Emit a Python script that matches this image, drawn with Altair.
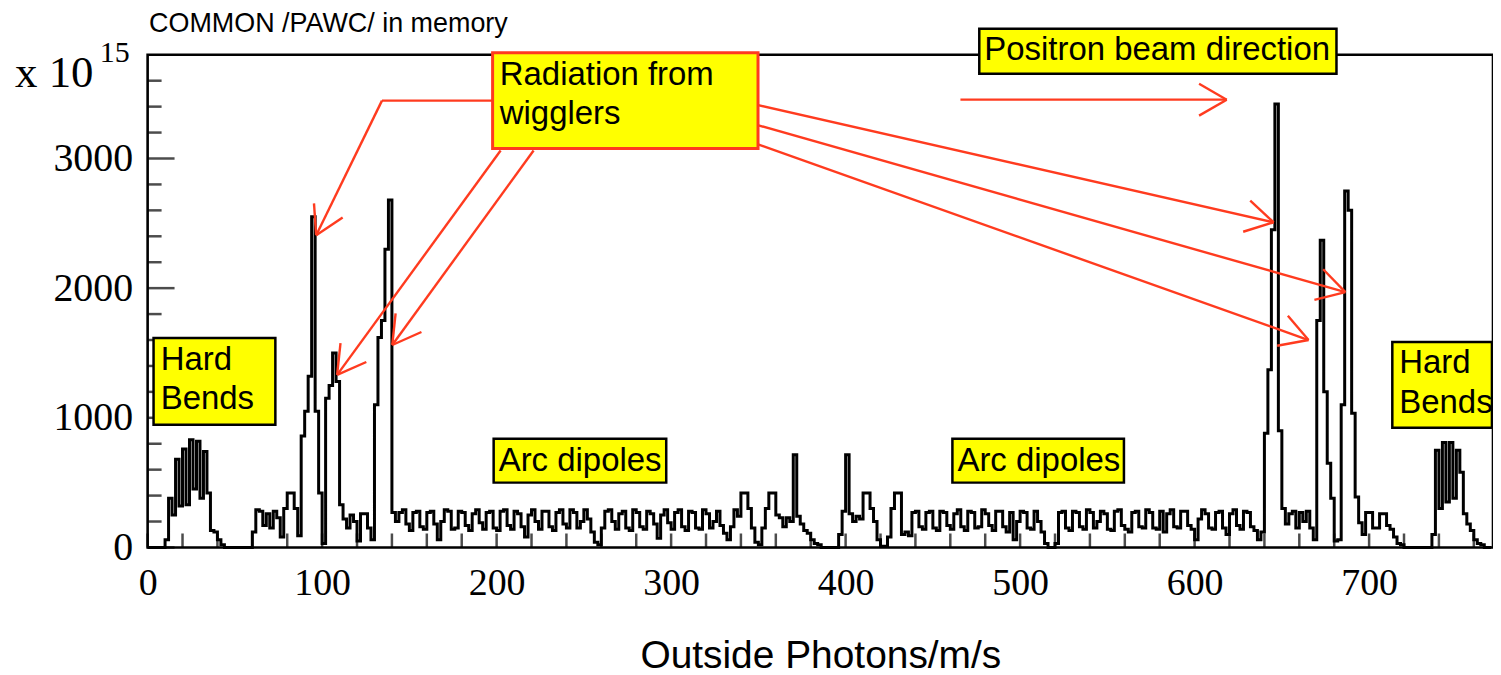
import math
import altair as alt
import pandas as pd

# ---------------- histogram contents (bin width 2, first bin starts at x = 0) ----------------
BIN_WIDTH = 2
hard_bends_left = [0, 0, 0, 0, 0,
                   60, 380, 250, 680, 320, 760, 330, 830, 450, 820, 380, 740, 420, 130, 120, 60, 20,
                   0, 0, 0, 0, 0, 0, 0, 0]                                   # x 0 - 60
wigglers_left = [120, 290, 280, 170, 260, 150, 280, 230, 80, 300,
                 420, 420, 300, 90, 860, 1050, 1320, 2550, 1050, 420,
                 30, 1150, 1250, 1500, 1280, 330, 220, 150, 250, 200,
                 50, 260, 260, 150, 60, 1100, 1620, 1750, 2300, 2680, 270]   # x 60 - 142
arc_left = [200, 270, 290, 180, 130, 270, 280, 160, 140, 270,
            280, 180, 60, 200, 290, 280, 140, 150, 280, 270,
            170, 130, 260, 290, 190, 140, 270, 280, 150, 130,
            280, 290, 170, 140, 280, 260, 160, 80, 250, 290,
            200, 140, 280, 280, 160, 130, 270, 290, 180, 150,
            290, 270, 150, 200, 290, 220, 120, 40, 20, 150,
            280, 290, 200, 140, 260, 280, 150, 130, 290, 270,
            160, 140, 280, 260, 180, 70, 250, 290, 190, 140,
            270, 290, 160, 130, 280, 270, 150, 140, 290, 260,
            150, 200, 280, 170, 110, 60, 160, 290, 240]                     # x 142 - 340
middle = [420, 420, 300, 150, 40, 20, 150, 300, 420, 420,
          250, 230, 160, 230, 200, 715, 240, 180, 130, 110,
          60, 30, 20, 0, 0, 0, 0, 0, 100, 280,
          715, 260, 200, 240, 220, 420, 420, 300, 200, 60,
          10, 10, 80, 300, 420, 420]                                        # x 340 - 432
arc_right = [100, 120, 90, 270, 280, 160, 140, 270, 280, 150,
             130, 280, 270, 170, 140, 260, 290, 160, 130, 280,
             270, 150, 160, 290, 260, 170, 130, 280, 280, 160,
             120, 270, 60, 200, 280, 270, 150, 140, 280, 200,
             120, 30, 0, 0, 30, 270, 280, 150, 130, 280,
             270, 160, 140, 290, 270, 150, 200, 280, 260, 140,
             130, 280, 290, 170, 140, 120, 270, 280, 160, 150,
             290, 270, 150, 140, 280, 120, 260, 290, 160, 150,
             280, 280, 170, 140, 60, 220, 290, 260, 150, 140,
             270, 280, 150, 100, 260, 290, 170, 140, 280, 270,
             160, 130, 60, 120]                                             # x 432 - 640
wigglers_right = [880, 1370, 2450, 3420, 900, 300, 180, 260, 280, 150,
                  270, 200, 280, 150, 60, 1750, 2370, 1200, 650, 380,
                  50, 60, 1100, 2750, 2600, 1035, 390, 190, 100, 270,
                  270, 150, 150, 260, 260, 170, 140, 80, 30, 20,
                  0, 0, 0, 0, 0, 0, 0, 0, 100, 750,
                  300, 810, 350, 810, 380, 750, 580, 260, 180, 130,
                  60, 30, 20, 0, 0]                                         # x 640 - 770

# ---------------- axes ----------------
x_labels = [0, 100, 200, 300, 400, 500, 600, 700]
x_ticks = list(range(0, 770, 20))
y_labels = [0, 1000, 2000, 3000]
y_minor = [v for v in range(200, 3800, 200) if v % 1000 != 0]

# ---------------- annotations (data coordinates) ----------------
box_x = [3.4, 713.3, 197.7, 476.6, 198.3, 461.2]
box_x2 = [73.2, 770.4, 349.8, 681.3, 297.2, 559.5]
box_y = [1615, 1585, 3815, 4000, 838, 838]
box_y2 = [946, 923, 3077, 3654, 500, 500]
box_edge = ["black", "black", "#ff3b1f", "black", "black", "black"]

note_text = ["Hard", "Bends", "Hard", "Bends", "Radiation from", "wigglers",
             "Positron beam direction", "Arc dipoles", "Arc dipoles", "COMMON /PAWC/ in memory"]
note_x = [7.5, 7.5, 717.3, 717.3, 201.8, 201.8, 479.5, 201.2, 464.1, 0.8]
note_y = [1446, 1146, 1423, 1115, 3646, 3346, 3838, 669, 669, 4035]
note_size = [33, 33, 33, 33, 33, 33, 33, 33, 33, 27]

exp_text = ["x 10", "15"]
exp_x = [-76.0, -27.4]
exp_y = [3662, 3810]
exp_size = [45, 30]

arrow_paths = [
    [(198.3, 3446.2), (134.3, 3446.2), (96.6, 2407.7)],
    [(202.3, 3061.5), (108.6, 1330.8)],
    [(221.2, 3061.5), (140.2, 1561.5)],
    [(348.6, 3415.4), (645.3, 2507.7)],
    [(348.6, 3261.5), (686.4, 1969.2)],
    [(348.6, 3115.4), (665.3, 1600.0)],
    [(465.8, 3453.8), (618.4, 3453.8)],
]

# ---------------- build tables ----------------
W, H = 1349, 494
X_MAX, Y_MAX = 771, 3800
kx, ky = W / X_MAX, H / Y_MAX
HEAD, ANG = 32, math.radians(30)

counts = hard_bends_left + wigglers_left + arc_left + middle + arc_right + wigglers_right
edges = [i * BIN_WIDTH for i in range(len(counts) + 1)]
hist = pd.DataFrame({"x": edges, "y": counts + [counts[-1]]})

segs = []
for path in arrow_paths:
    for (x0, y0), (x1, y1) in zip(path[:-1], path[1:]):
        segs.append((x0, y0, x1, y1))
    (xp, yp), (xt, yt) = path[-2], path[-1]
    dx, dy = (xt - xp) * kx, -(yt - yp) * ky
    n = math.hypot(dx, dy)
    bx, by = -dx / n, -dy / n
    for a in (ANG, -ANG):
        wx = (bx * math.cos(a) - by * math.sin(a)) * HEAD
        wy = (bx * math.sin(a) + by * math.cos(a)) * HEAD
        segs.append((xt, yt, xt + wx / kx, yt - wy / ky))
arrows = pd.DataFrame(segs, columns=["x", "y", "x2", "y2"])

boxes = pd.DataFrame({"x": box_x, "x2": box_x2, "y": box_y, "y2": box_y2, "edge": box_edge,
                      "sw": [3 if c != "black" else 2.5 for c in box_edge]})
notes = pd.DataFrame({"x": note_x, "y": note_y, "t": note_text, "fs": note_size})
expo = pd.DataFrame({"x": exp_x, "y": exp_y, "t": exp_text, "fs": exp_size})
xt_df = pd.DataFrame({"x": x_ticks})
ymaj_df = pd.DataFrame({"y": y_labels})
ymin_df = pd.DataFrame({"y": y_minor})

xs = alt.Scale(domain=[0, X_MAX], nice=False, zero=False)
ys = alt.Scale(domain=[0, Y_MAX], nice=False, zero=False)

x_axis = alt.Axis(values=x_labels, ticks=False, tickSize=0, domain=False, grid=False,
                  labelFont="Liberation Serif", labelFontSize=38, labelColor="black",
                  labelPadding=17, labelFlush=False, labelOverlap=False, format="d",
                  title="Outside Photons/m/s", titleFont="Liberation Sans", titleFontSize=39,
                  titleFontWeight="normal", titleColor="black", titlePadding=34)
y_axis = alt.Axis(values=y_labels, ticks=False, tickSize=0, domain=False, grid=False,
                  labelFont="Liberation Serif", labelFontSize=40, labelColor="black",
                  labelPadding=15, labelFlush=False, labelOverlap=False, format="d", title=None)


def X(field="x"):
    return alt.X(f"{field}:Q", scale=xs, axis=x_axis)


def Y(field="y"):
    return alt.Y(f"{field}:Q", scale=ys, axis=y_axis)


line = alt.Chart(hist).mark_line(interpolate="step-after", color="black", strokeWidth=3).encode(
    x=X(), y=Y())

xticks = alt.Chart(xt_df).mark_tick(orient="vertical", size=14, thickness=2.5, color="black").encode(
    x=X(), y=alt.value(H - 7))
ymaj = alt.Chart(ymaj_df).mark_tick(orient="horizontal", size=27, thickness=2.5, color="black").encode(
    y=Y(), x=alt.value(13.5))
ymin = alt.Chart(ymin_df).mark_tick(orient="horizontal", size=14, thickness=2.5, color="black").encode(
    y=Y(), x=alt.value(7))

frame = alt.Chart(pd.DataFrame({"k": [0]})).mark_rect(
    fill="transparent", stroke="black", strokeWidth=2.6).encode(
    x=alt.value(0), x2=alt.value(W), y=alt.value(0), y2=alt.value(H))

arrow_layer = alt.Chart(arrows).mark_rule(color="#ff3b1f", strokeWidth=2.4).encode(
    x=X(), y=Y(), x2="x2:Q", y2="y2:Q")

box_layer = alt.Chart(boxes).mark_rect(fill="#ffff00").encode(
    x=X(), x2="x2:Q", y=Y(), y2="y2:Q",
    stroke=alt.Stroke("edge:N", scale=None),
    strokeWidth=alt.StrokeWidth("sw:Q", scale=None))

note_layer = alt.Chart(notes).mark_text(align="left", baseline="middle", font="Liberation Sans",
                                        color="black").encode(
    x=X(), y=Y(), text="t:N", size=alt.Size("fs:Q", scale=None))

expo_layer = alt.Chart(expo).mark_text(align="left", baseline="middle", font="Liberation Serif",
                                       color="black").encode(
    x=X(), y=Y(), text="t:N", size=alt.Size("fs:Q", scale=None))

chart = alt.layer(
    line, xticks, ymaj, ymin, frame, arrow_layer, box_layer, note_layer, expo_layer
).properties(
    width=W, height=H,
    padding={"left": 140, "top": 46, "right": 0, "bottom": 130},
    autosize=alt.AutoSizeParams(type="none"),
).configure_view(strokeWidth=0).configure(background="white")

chart.save("out.html", embed_options={"renderer": "svg", "actions": False})
